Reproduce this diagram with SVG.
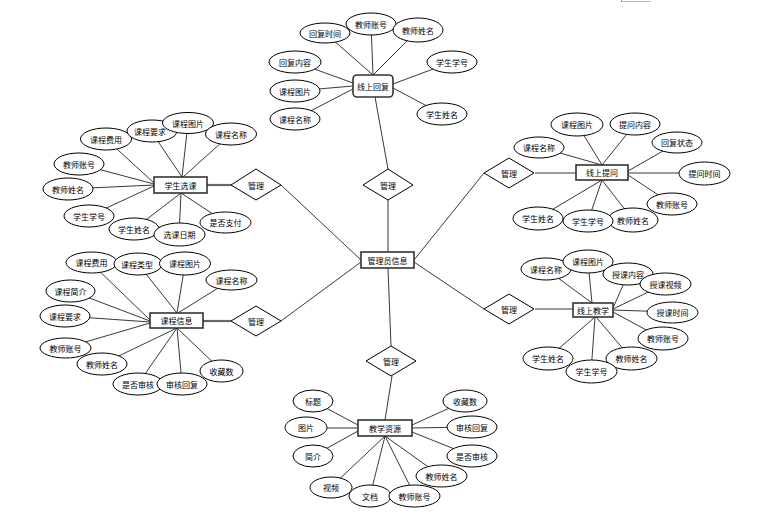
<svg xmlns="http://www.w3.org/2000/svg" width="761" height="525" viewBox="0 0 761 525">
<style>
  .c line { stroke: #222; stroke-width: 0.9; }
  .c .k { stroke: #666; stroke-width: 2.2; }
  ellipse { fill: #fff; stroke: #000; stroke-width: 1; }
  .e rect { fill: #fff; stroke: #333; stroke-width: 1.6; }
  polygon { fill: #fff; stroke: #000; stroke-width: 1; }
  text { font-family: "Noto Sans CJK SC", "Noto Sans", sans-serif; font-size: 8px; fill: #000; text-anchor: middle; dominant-baseline: central; }
</style>
<rect width="761" height="525" fill="#fff"/>
<line x1="621" y1="1.5" x2="651" y2="1.5" stroke="#bbb" stroke-width="1"/>
<line x1="621.5" y1="0" x2="621.5" y2="2" stroke="#999" stroke-width="1"/>

<g id="connectors" class="c">
  <!-- center to diamonds -->
  <line x1="361" y1="260" x2="281" y2="185"/>
  <line x1="361" y1="262" x2="281" y2="321"/>
  <line x1="388" y1="252" x2="388" y2="200"/>
  <line x1="414" y1="260" x2="484" y2="173"/>
  <line x1="414" y1="262" x2="484" y2="309"/>
  <line x1="388" y1="268" x2="391" y2="346"/>
  <!-- diamonds to entities -->
  <line x1="388" y1="169" x2="375" y2="97"/>
  <line class="k" x1="207" y1="185" x2="231" y2="185"/>
  <line class="k" x1="203" y1="321" x2="231" y2="321"/>
  <line x1="535" y1="173" x2="576" y2="173"/>
  <line x1="535" y1="309" x2="573" y2="309"/>
  <line x1="392" y1="376" x2="385" y2="420"/>
  <!-- 线上回复 -->
  <line x1="325" y1="33" x2="373" y2="75"/>
  <line x1="371" y1="24" x2="373" y2="75"/>
  <line x1="418" y1="30" x2="373" y2="75"/>
  <line x1="295" y1="62" x2="353" y2="83"/>
  <line x1="295" y1="91" x2="353" y2="86"/>
  <line x1="295" y1="119" x2="353" y2="89"/>
  <line x1="452" y1="62" x2="393" y2="84"/>
  <line x1="442" y1="114" x2="393" y2="88"/>
  <!-- 学生选课 -->
  <line x1="106" y1="139" x2="154" y2="183"/>
  <line x1="151" y1="131" x2="182" y2="177"/>
  <line x1="188" y1="123" x2="182" y2="177"/>
  <line x1="231" y1="134" x2="183" y2="177"/>
  <line x1="79" y1="164" x2="154" y2="184"/>
  <line x1="68" y1="189" x2="154" y2="185"/>
  <line x1="89" y1="216" x2="154" y2="186"/>
  <line x1="134" y1="229" x2="181" y2="193"/>
  <line x1="179" y1="235" x2="181" y2="193"/>
  <line x1="225" y1="222" x2="181" y2="193"/>
  <!-- 课程信息 -->
  <line x1="91" y1="263" x2="150" y2="320"/>
  <line x1="138" y1="264" x2="177" y2="313"/>
  <line x1="185" y1="264" x2="177" y2="313"/>
  <line x1="231" y1="280" x2="178" y2="313"/>
  <line x1="71" y1="291" x2="150" y2="321"/>
  <line x1="65" y1="316" x2="150" y2="322"/>
  <line x1="65" y1="348" x2="150" y2="323"/>
  <line x1="102" y1="364" x2="177" y2="328"/>
  <line x1="138" y1="384" x2="177" y2="328"/>
  <line x1="182" y1="384" x2="177" y2="328"/>
  <line x1="222" y1="371" x2="177" y2="328"/>
  <!-- 线上提问 -->
  <line x1="539" y1="147" x2="602" y2="165"/>
  <line x1="577" y1="124" x2="602" y2="165"/>
  <line x1="635" y1="124" x2="602" y2="165"/>
  <line x1="677" y1="143" x2="628" y2="171"/>
  <line x1="704" y1="173" x2="628" y2="173"/>
  <line x1="672" y1="204" x2="628" y2="175"/>
  <line x1="633" y1="220" x2="602" y2="180"/>
  <line x1="588" y1="221" x2="602" y2="180"/>
  <line x1="538" y1="218" x2="602" y2="180"/>
  <!-- 线上教学 -->
  <line x1="546" y1="269" x2="592" y2="303"/>
  <line x1="588" y1="262" x2="592" y2="303"/>
  <line x1="628" y1="274" x2="613" y2="308"/>
  <line x1="665" y1="284" x2="613" y2="309"/>
  <line x1="672" y1="312" x2="613" y2="310"/>
  <line x1="663" y1="339" x2="613" y2="312"/>
  <line x1="631" y1="358" x2="596" y2="317"/>
  <line x1="591" y1="372" x2="595" y2="317"/>
  <line x1="548" y1="358" x2="595" y2="317"/>
  <!-- 教学资源 -->
  <line x1="313" y1="401" x2="358" y2="425"/>
  <line x1="306" y1="428" x2="358" y2="428"/>
  <line x1="313" y1="456" x2="358" y2="431"/>
  <line x1="465" y1="401" x2="412" y2="425"/>
  <line x1="472" y1="427" x2="412" y2="428"/>
  <line x1="472" y1="456" x2="412" y2="432"/>
  <line x1="331" y1="487" x2="385" y2="436"/>
  <line x1="370" y1="496" x2="385" y2="436"/>
  <line x1="415" y1="496" x2="385" y2="436"/>
  <line x1="441" y1="476" x2="385" y2="436"/>
</g>

<!-- relationship diamonds -->
<g id="rel-top"><polygon points="388,169 413,185 388,200 363,185"/><text x="388" y="185">管理</text></g>
<g id="rel-lefttop"><polygon points="256,169 281,185 256,200 231,185"/><text x="256" y="185">管理</text></g>
<g id="rel-leftbottom"><polygon points="256,306 281,321 256,336 231,321"/><text x="256" y="321">管理</text></g>
<g id="rel-righttop"><polygon points="509,158 534,173 509,188 484,173"/><text x="509" y="173">管理</text></g>
<g id="rel-rightbottom"><polygon points="509,294 534,309 509,324 484,309"/><text x="509" y="309">管理</text></g>
<g id="rel-bottom"><polygon points="391,346 416,361 391,376 366,361"/><text x="391" y="361">管理</text></g>

<!-- entities -->
<g id="admin" class="e"><rect x="361" y="252" width="53" height="16"/><text x="387.5" y="260">管理员信息</text></g>
<g id="reply" class="e"><rect x="353" y="75" width="40" height="22" rx="4"/><text x="373" y="86">线上回复</text></g>
<g id="select" class="e"><rect x="154" y="177" width="53" height="16"/><text x="180.5" y="185">学生选课</text></g>
<g id="course" class="e"><rect x="150" y="313" width="53" height="15"/><text x="176.5" y="320.5">课程信息</text></g>
<g id="question" class="e"><rect x="576" y="165" width="52" height="15"/><text x="602" y="172.5">线上提问</text></g>
<g id="teach" class="e"><rect x="573" y="303" width="40" height="14"/><text x="593" y="310">线上教学</text></g>
<g id="resource" class="e"><rect x="358" y="420" width="54" height="16"/><text x="385" y="428">教学资源</text></g>

<!-- attributes: 线上回复 -->
<g id="r1"><ellipse cx="325" cy="33" rx="25" ry="10"/><text x="325" y="33">回复时间</text></g>
<g id="r2"><ellipse cx="371" cy="24" rx="25" ry="11"/><text x="371" y="24">教师账号</text></g>
<g id="r3"><ellipse cx="418" cy="30" rx="25" ry="12"/><text x="418" y="30">教师姓名</text></g>
<g id="r4"><ellipse cx="295" cy="62" rx="26" ry="11"/><text x="295" y="62">回复内容</text></g>
<g id="r5"><ellipse cx="295" cy="91" rx="25" ry="11"/><text x="295" y="91">课程图片</text></g>
<g id="r6"><ellipse cx="295" cy="119" rx="25" ry="11"/><text x="295" y="119">课程名称</text></g>
<g id="r7"><ellipse cx="452" cy="62" rx="25" ry="11"/><text x="452" y="62">学生学号</text></g>
<g id="r8"><ellipse cx="442" cy="114" rx="25" ry="11"/><text x="442" y="114">学生姓名</text></g>

<!-- attributes: 学生选课 -->
<g id="s1"><ellipse cx="106" cy="139" rx="25.5" ry="11"/><text x="106" y="139">课程费用</text></g>
<g id="s2"><ellipse cx="152" cy="131" rx="25" ry="11"/><text x="150" y="131">课程要求</text></g>
<g id="s3"><ellipse cx="188" cy="123" rx="25.5" ry="10.5"/><text x="188" y="123">课程图片</text></g>
<g id="s4"><ellipse cx="231" cy="134" rx="25.5" ry="11"/><text x="231" y="134">课程名称</text></g>
<g id="s5"><ellipse cx="79" cy="164" rx="25" ry="11"/><text x="79" y="164">教师账号</text></g>
<g id="s6"><ellipse cx="68" cy="189" rx="25" ry="11"/><text x="68" y="189">教师姓名</text></g>
<g id="s7"><ellipse cx="89" cy="216" rx="25" ry="11"/><text x="89" y="216">学生学号</text></g>
<g id="s8"><ellipse cx="134" cy="229" rx="25" ry="11"/><text x="134" y="229">学生姓名</text></g>
<g id="s9"><ellipse cx="179.5" cy="234.5" rx="25.5" ry="11.5"/><text x="179.5" y="234.5">选课日期</text></g>
<g id="s10"><ellipse cx="225.5" cy="222.5" rx="25.5" ry="10.5"/><text x="225.5" y="222.5">是否支付</text></g>

<!-- attributes: 课程信息 -->
<g id="c1"><ellipse cx="91.5" cy="262.5" rx="25.5" ry="10.5"/><text x="91.5" y="262.5">课程费用</text></g>
<g id="c2"><ellipse cx="138" cy="264" rx="24" ry="11"/><text x="137" y="264">课程类型</text></g>
<g id="c3"><ellipse cx="185" cy="263.5" rx="25.5" ry="11.5"/><text x="185" y="263.5">课程图片</text></g>
<g id="c4"><ellipse cx="231.5" cy="280" rx="25.5" ry="10"/><text x="231.5" y="280">课程名称</text></g>
<g id="c5"><ellipse cx="70.5" cy="291" rx="24.5" ry="11"/><text x="70.5" y="291">课程简介</text></g>
<g id="c6"><ellipse cx="65" cy="316" rx="25" ry="11"/><text x="65" y="316">课程要求</text></g>
<g id="c7"><ellipse cx="65.5" cy="348" rx="25.5" ry="10"/><text x="65.5" y="348">教师账号</text></g>
<g id="c8"><ellipse cx="102" cy="364" rx="25" ry="11"/><text x="102" y="364">教师姓名</text></g>
<g id="c9"><ellipse cx="138" cy="384" rx="25" ry="11"/><text x="138" y="384">是否审核</text></g>
<g id="c10"><ellipse cx="182" cy="384" rx="25" ry="11"/><text x="182" y="384">审核回复</text></g>
<g id="c11"><ellipse cx="221.5" cy="371" rx="21.5" ry="11"/><text x="221.5" y="371">收藏数</text></g>

<!-- attributes: 线上提问 -->
<g id="q1"><ellipse cx="539" cy="147.5" rx="25" ry="10.5"/><text x="539" y="147.5">课程名称</text></g>
<g id="q2"><ellipse cx="577" cy="124.5" rx="26" ry="11.5"/><text x="577" y="124.5">课程图片</text></g>
<g id="q3"><ellipse cx="635" cy="124" rx="25" ry="11"/><text x="635" y="124">提问内容</text></g>
<g id="q4"><ellipse cx="677" cy="142.5" rx="25" ry="10.5"/><text x="677" y="142.5">回复状态</text></g>
<g id="q5"><ellipse cx="704.5" cy="173.5" rx="25.5" ry="11.5"/><text x="704.5" y="173.5">提问时间</text></g>
<g id="q6"><ellipse cx="672" cy="204" rx="25" ry="11"/><text x="672" y="204">教师账号</text></g>
<g id="q7"><ellipse cx="633" cy="220" rx="25" ry="12"/><text x="633" y="220">教师姓名</text></g>
<g id="q8"><ellipse cx="588" cy="221" rx="25" ry="11"/><text x="588" y="221">学生学号</text></g>
<g id="q9"><ellipse cx="538" cy="218.5" rx="25" ry="11.5"/><text x="538" y="218.5">学生姓名</text></g>

<!-- attributes: 线上教学 -->
<g id="t1"><ellipse cx="546" cy="269" rx="25" ry="11"/><text x="546" y="269">课程名称</text></g>
<g id="t2"><ellipse cx="588" cy="261.5" rx="25" ry="11.5"/><text x="588" y="261.5">课程图片</text></g>
<g id="t3"><ellipse cx="628" cy="274" rx="25" ry="11"/><text x="628" y="274">授课内容</text></g>
<g id="t4"><ellipse cx="665.5" cy="284" rx="25.5" ry="11"/><text x="665.5" y="284">授课视频</text></g>
<g id="t5"><ellipse cx="672.5" cy="312.5" rx="25.5" ry="10.5"/><text x="672.5" y="312.5">授课时间</text></g>
<g id="t6"><ellipse cx="663" cy="338.5" rx="25" ry="11.5"/><text x="663" y="338.5">教师账号</text></g>
<g id="t7"><ellipse cx="631.5" cy="358.5" rx="25.5" ry="11.5"/><text x="631.5" y="358.5">教师姓名</text></g>
<g id="t8"><ellipse cx="591.5" cy="371.5" rx="25.5" ry="11.5"/><text x="591.5" y="371.5">学生学号</text></g>
<g id="t9"><ellipse cx="548" cy="358.5" rx="25" ry="11.5"/><text x="548" y="358.5">学生姓名</text></g>

<!-- attributes: 教学资源 -->
<g id="m1"><ellipse cx="313" cy="401" rx="20" ry="11"/><text x="313" y="401">标题</text></g>
<g id="m2"><ellipse cx="306" cy="427.5" rx="21" ry="10.5"/><text x="306" y="427.5">图片</text></g>
<g id="m3"><ellipse cx="313" cy="456" rx="20" ry="11"/><text x="313" y="456">简介</text></g>
<g id="m4"><ellipse cx="331" cy="487.5" rx="21" ry="10.5"/><text x="331" y="487.5">视频</text></g>
<g id="m5"><ellipse cx="370" cy="496" rx="21" ry="11"/><text x="370" y="496">文档</text></g>
<g id="m6"><ellipse cx="414.5" cy="496" rx="25.5" ry="11"/><text x="414.5" y="496">教师账号</text></g>
<g id="m7"><ellipse cx="441.5" cy="476" rx="25.5" ry="11"/><text x="441.5" y="476">教师姓名</text></g>
<g id="m8"><ellipse cx="472" cy="456" rx="25" ry="11"/><text x="472" y="456">是否审核</text></g>
<g id="m9"><ellipse cx="472" cy="427" rx="25" ry="11"/><text x="472" y="427">审核回复</text></g>
<g id="m10"><ellipse cx="465" cy="401" rx="22" ry="11"/><text x="465" y="401">收藏数</text></g>
</svg>
